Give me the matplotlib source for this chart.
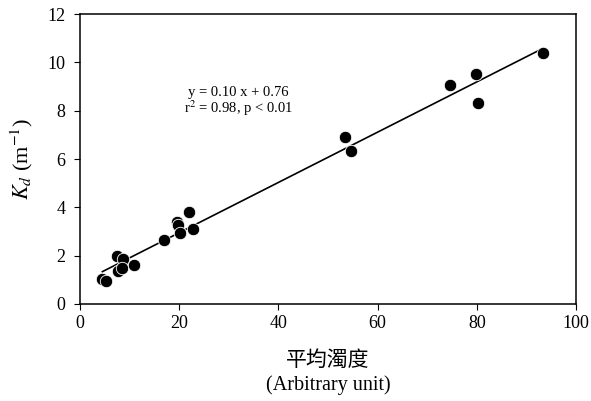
import numpy as np
import matplotlib
matplotlib.use("Agg")
import matplotlib.pyplot as plt

plt.rcParams['font.family'] = ['Liberation Serif', 'DejaVu Serif']
plt.rcParams['mathtext.fontset'] = 'stix'

# turbidity (arbitrary unit) vs Kd (m^-1)
turbidity = [4.5, 5.2, 7.5, 8.7, 7.6, 8.4, 10.8, 16.9, 19.5, 19.8, 20.2,
             21.9, 22.8, 53.4, 54.6, 74.6, 79.8, 80.2, 93.4]
kd = [1.02, 0.95, 2.00, 1.85, 1.36, 1.48, 1.61, 2.65, 3.39, 3.27, 2.95,
      3.81, 3.12, 6.90, 6.34, 9.06, 9.50, 8.33, 10.37]

x = np.array(turbidity)
y = np.array(kd)
slope, intercept = np.polyfit(x, y, 1)
xl = np.array([x.min(), x.max()])

fig = plt.figure(figsize=(5.91, 4.01), dpi=100)
ax = fig.add_axes([0.1354, 0.2419, 0.8392, 0.7231])

ax.plot(xl, slope * xl + intercept, color='black', lw=1.2, zorder=1)
ax.scatter(x, y, s=80, color='black', edgecolors='white', linewidths=0.6, zorder=2)

ax.set_xlim(0, 100)
ax.set_ylim(0, 12)
ax.set_xticks(range(0, 101, 20))
ax.set_yticks(range(0, 13, 2))
ax.tick_params(direction='out', length=4.5, labelsize=13, top=False, right=False)
ax.tick_params(axis='y', pad=6)
for s in ax.spines.values():
    s.set_linewidth(1.1)

ax.text(31.9, 8.36, 'y = 0.10 x + 0.76\nr$^2$ = 0.98, p < 0.01', ha='center',
        va='center', fontsize=10.5, linespacing=0.95)

ax.set_ylabel('$K_d$ (m$^{-1}$)', fontsize=16, labelpad=9)
ax.text(0.5, -0.193, '平均濁度', transform=ax.transAxes, ha='center', va='center',
        fontsize=15, weight='medium', family=['Noto Sans CJK TC', 'DejaVu Sans'])
ax.text(0.5, -0.28, '(Arbitrary unit)', transform=ax.transAxes, ha='center',
        va='center', fontsize=14.5)

fig.savefig('out.png', dpi=100)
